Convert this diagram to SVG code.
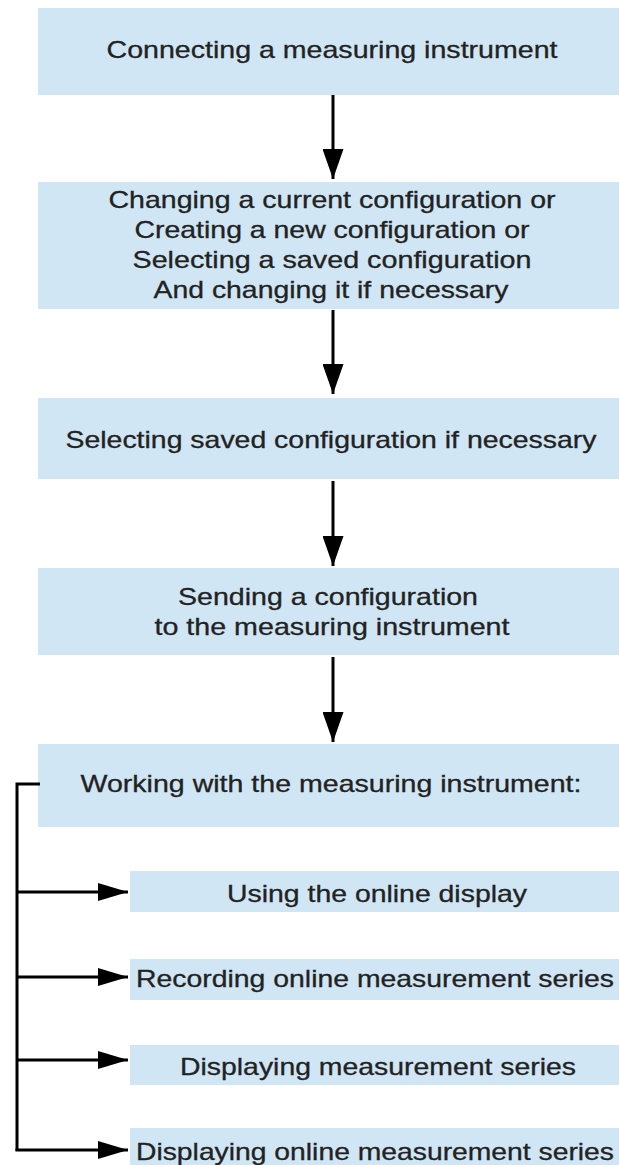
<svg xmlns="http://www.w3.org/2000/svg" width="619" height="1165" viewBox="0 0 619 1165">
<style>
.box{fill:#d0e6f4;}
.t{font-family:"Liberation Sans",Arial,sans-serif;font-size:24px;fill:#222;stroke:#222;stroke-width:0.3;text-anchor:middle;}
.ln{stroke:#000;stroke-width:3;fill:none;}
</style>
<defs>
<marker id="ah" markerUnits="userSpaceOnUse" markerWidth="30" markerHeight="21" refX="30" refY="10.5" orient="auto"><path d="M0,0 L30,10.5 L0,21 z" fill="#000"/></marker>
<marker id="ahs" markerUnits="userSpaceOnUse" markerWidth="30" markerHeight="18" refX="30" refY="9" orient="auto"><path d="M0,0 L30,9 L0,18 z" fill="#000"/></marker>
</defs>
<rect width="619" height="1165" fill="#fff"/>
<g id="n1"><rect class="box" x="38" y="8" width="581" height="87"/><text class="t" x="332" y="58" textLength="451" lengthAdjust="spacingAndGlyphs">Connecting a measuring instrument</text></g>
<g id="n2"><rect class="box" x="38" y="182" width="581" height="127"/>
<text class="t" x="332" y="208" textLength="447" lengthAdjust="spacingAndGlyphs">Changing a current configuration or</text>
<text class="t" x="332" y="238" textLength="395" lengthAdjust="spacingAndGlyphs">Creating a new configuration or</text>
<text class="t" x="332" y="268" textLength="399" lengthAdjust="spacingAndGlyphs">Selecting a saved configuration</text>
<text class="t" x="331" y="298" textLength="355" lengthAdjust="spacingAndGlyphs">And changing it if necessary</text></g>
<g id="n3"><rect class="box" x="38" y="398" width="581" height="81"/><text class="t" x="331" y="448" textLength="531" lengthAdjust="spacingAndGlyphs">Selecting saved configuration if necessary</text></g>
<g id="n4"><rect class="box" x="38" y="568" width="581" height="87"/>
<text class="t" x="328" y="605" textLength="300" lengthAdjust="spacingAndGlyphs">Sending a configuration</text>
<text class="t" x="332" y="635" textLength="355" lengthAdjust="spacingAndGlyphs">to the measuring instrument</text></g>
<g id="n5"><rect class="box" x="38" y="744" width="581" height="83"/><text class="t" x="331" y="792" textLength="501" lengthAdjust="spacingAndGlyphs">Working with the measuring instrument:</text></g>
<g id="s1"><rect class="box" x="130" y="871" width="489" height="41"/><text class="t" x="377" y="902" textLength="300" lengthAdjust="spacingAndGlyphs">Using the online display</text></g>
<g id="s2"><rect class="box" x="130" y="959" width="489" height="41"/><text class="t" x="375" y="987" textLength="478" lengthAdjust="spacingAndGlyphs">Recording online measurement series</text></g>
<g id="s3"><rect class="box" x="130" y="1045" width="489" height="40"/><text class="t" x="378" y="1075" textLength="396" lengthAdjust="spacingAndGlyphs">Displaying measurement series</text></g>
<g id="s4"><rect class="box" x="130" y="1128" width="489" height="37"/><text class="t" x="375" y="1160" textLength="478" lengthAdjust="spacingAndGlyphs">Displaying online measurement series</text></g>
<g id="connectors">
<line class="ln" x1="333" y1="95" x2="333" y2="179" marker-end="url(#ah)"/>
<line class="ln" x1="333" y1="310" x2="333" y2="394" marker-end="url(#ah)"/>
<line class="ln" x1="333" y1="481" x2="333" y2="566" marker-end="url(#ah)"/>
<line class="ln" x1="333" y1="657" x2="333" y2="742" marker-end="url(#ah)"/>
<path class="ln" d="M40,784 H17 V1151"/>
<line class="ln" x1="17" y1="892" x2="128" y2="892" marker-end="url(#ahs)"/>
<line class="ln" x1="17" y1="977" x2="128" y2="977" marker-end="url(#ahs)"/>
<line class="ln" x1="17" y1="1060" x2="128" y2="1060" marker-end="url(#ahs)"/>
<line class="ln" x1="15.5" y1="1150" x2="128" y2="1150" marker-end="url(#ahs)"/>
</g>
</svg>
